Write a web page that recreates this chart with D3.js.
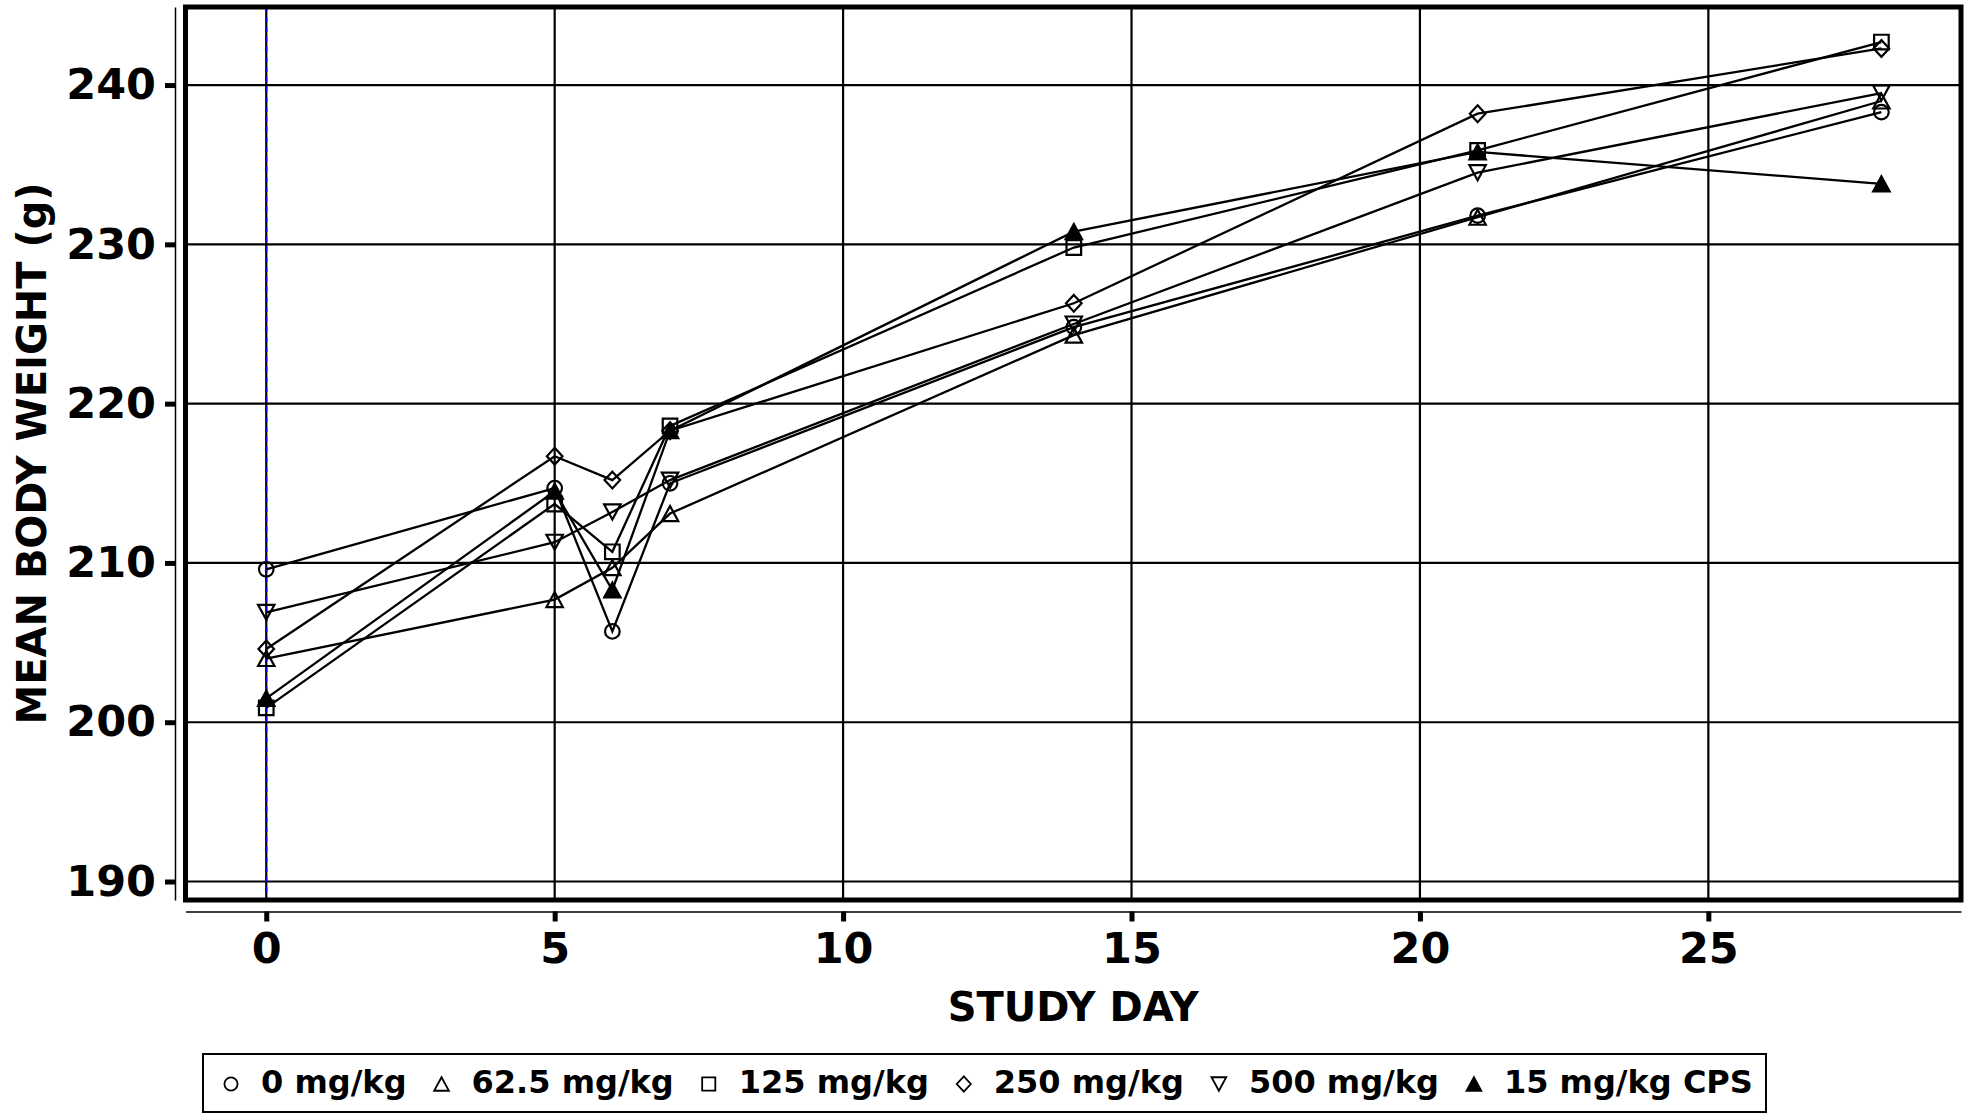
<!DOCTYPE html>
<html>
<head>
<meta charset="utf-8">
<script src="https://cdn.jsdelivr.net/npm/d3@7"></script>
<style>
  body { margin: 0; background: #fff; }
  text { font-family: "DejaVu Sans", sans-serif; font-weight: bold; fill: #000; }
</style>
</head>
<body>
<div id="chart"></div>
<script>
const width = 1973;
const height = 1114;

// Study days and mean body weights (g) per dose group
const days = [0, 5, 6, 7, 14, 21, 28];
const groups = ['0 mg/kg', '62.5 mg/kg', '125 mg/kg', '250 mg/kg', '500 mg/kg', '15 mg/kg CPS'];
const markerTypes = ['circle', 'triangleUp', 'square', 'diamond', 'triangleDown', 'triangleFilled'];
const w0 = [209.6, 214.7, 205.7, 215.0, 224.8, 231.8, 238.3];
const w62 = [204.0, 207.7, 209.7, 213.1, 224.3, 231.7, 239.0];
const w125 = [200.9, 213.7, 210.7, 218.6, 229.8, 235.9, 242.7];
const w250 = [204.6, 216.7, 215.2, 218.3, 226.3, 238.2, 242.3];
const w500 = [206.9, 211.3, 213.2, 215.2, 225.0, 234.5, 239.5];
const wCps = [201.5, 214.5, 208.3, 218.3, 230.8, 235.8, 233.8];
const seriesValues = [w0, w62, w125, w250, w500, wCps];

const xTicks = [0, 5, 10, 15, 20, 25];
const yTicks = [190, 200, 210, 220, 230, 240];

const svg = d3.select('#chart')
  .append('svg')
  .attr('width', width)
  .attr('height', height);

const x = d3.scaleLinear().domain([-1.4, 29.38]).range([185.5, 1961]);
const y = d3.scaleLinear().domain([188.84, 244.9]).range([900, 7]);

// marker outlines, centred at 0,0
function markerPath(type, k) {
  const r = 7.3 * k, tw = 8.2 * k, th = 7.5 * k, dw = 7.8 * k, dh = 8.4 * k;
  switch (type) {
    case 'circle':
      return `M${r},0A${r},${r} 0 1,1 ${-r},0A${r},${r} 0 1,1 ${r},0Z`;
    case 'square':
      return `M${-r},${-r}H${r}V${r}H${-r}Z`;
    case 'diamond':
      return `M0,${-dh}L${dw},0L0,${dh}L${-dw},0Z`;
    case 'triangleDown':
      return `M0,${th}L${tw},${-th}L${-tw},${-th}Z`;
    default:
      return `M0,${-th}L${tw},${th}L${-tw},${th}Z`;
  }
}

// grid lines
svg.append('g')
  .selectAll('line')
  .data(xTicks)
  .enter()
  .append('line')
  .attr('x1', d => x(d)).attr('x2', d => x(d))
  .attr('y1', y.range()[1]).attr('y2', y.range()[0])
  .attr('stroke', '#000')
  .attr('stroke-width', 2.2);

svg.append('g')
  .selectAll('line')
  .data(yTicks)
  .enter()
  .append('line')
  .attr('x1', x.range()[0]).attr('x2', x.range()[1])
  .attr('y1', d => y(d)).attr('y2', d => y(d))
  .attr('stroke', '#000')
  .attr('stroke-width', 2.2);

// blue dashed reference line at day 0
svg.append('line')
  .attr('x1', x(0)).attr('x2', x(0))
  .attr('y1', y.range()[1]).attr('y2', y.range()[0])
  .attr('stroke', '#0000ff')
  .attr('stroke-width', 2.2)
  .attr('stroke-dasharray', '5,5');

// axes, offset from the frame
const yAxis = svg.append('g')
  .attr('transform', 'translate(175,0)')
  .call(d3.axisLeft(y).tickValues(yTicks).tickSize(10).tickSizeOuter(0).tickPadding(9));
const xAxis = svg.append('g')
  .attr('transform', 'translate(0,911.5)')
  .call(d3.axisBottom(x).tickValues(xTicks).tickSize(10).tickSizeOuter(0).tickPadding(11));

[yAxis, xAxis].forEach(function (g) {
  g.select('.domain').attr('stroke', '#000').attr('stroke-width', 1.5);
  g.selectAll('.tick line').attr('stroke', '#000').attr('stroke-width', 5);
  g.selectAll('.tick text')
    .style('font-family', '"DejaVu Sans", sans-serif')
    .style('font-weight', 'bold')
    .style('font-size', '43px')
    .attr('fill', '#000');
});

// series lines and markers
const line = d3.line()
  .x(d => x(d.day))
  .y(d => y(d.w));

seriesValues.forEach(function (vals, i) {
  const pts = days.map((d, j) => ({ day: d, w: vals[j] }));
  svg.append('path')
    .datum(pts)
    .attr('d', line)
    .attr('fill', 'none')
    .attr('stroke', '#000')
    .attr('stroke-width', 2.3);

  svg.append('g')
    .selectAll('path')
    .data(pts)
    .enter()
    .append('path')
    .attr('transform', d => `translate(${x(d.day)},${y(d.w)})`)
    .attr('d', markerPath(markerTypes[i], 1))
    .attr('fill', markerTypes[i] === 'triangleFilled' ? '#000' : 'none')
    .attr('stroke', '#000')
    .attr('stroke-width', 2.2);
});

// heavy frame round the plot area
svg.append('rect')
  .attr('x', x.range()[0]).attr('y', y.range()[1])
  .attr('width', x.range()[1] - x.range()[0])
  .attr('height', y.range()[0] - y.range()[1])
  .attr('fill', 'none')
  .attr('stroke', '#000')
  .attr('stroke-width', 5);

// axis titles
svg.append('text')
  .attr('x', (x.range()[0] + x.range()[1]) / 2)
  .attr('y', 1021)
  .attr('text-anchor', 'middle')
  .style('font-size', '40px')
  .text('STUDY DAY');

svg.append('text')
  .attr('transform', `translate(46,${(y.range()[0] + y.range()[1]) / 2}) rotate(-90)`)
  .attr('text-anchor', 'middle')
  .style('font-size', '40px')
  .text('MEAN BODY WEIGHT (g)');

// legend
const legend = svg.append('g');
legend.append('rect')
  .attr('x', 203).attr('y', 1054)
  .attr('width', 1563).attr('height', 58)
  .attr('fill', '#fff')
  .attr('stroke', '#000')
  .attr('stroke-width', 2);

let cursor = 231;
groups.forEach(function (name, i) {
  legend.append('path')
    .attr('transform', `translate(${cursor},1084)`)
    .attr('d', markerPath(markerTypes[i], 0.9))
    .attr('fill', markerTypes[i] === 'triangleFilled' ? '#000' : 'none')
    .attr('stroke', '#000')
    .attr('stroke-width', 1.8);
  const t = legend.append('text')
    .attr('x', cursor + 30)
    .attr('y', 1093)
    .style('font-size', '32px')
    .text(name);
  cursor = cursor + 30 + t.node().getComputedTextLength() + 35;
});
</script>
</body>
</html>
